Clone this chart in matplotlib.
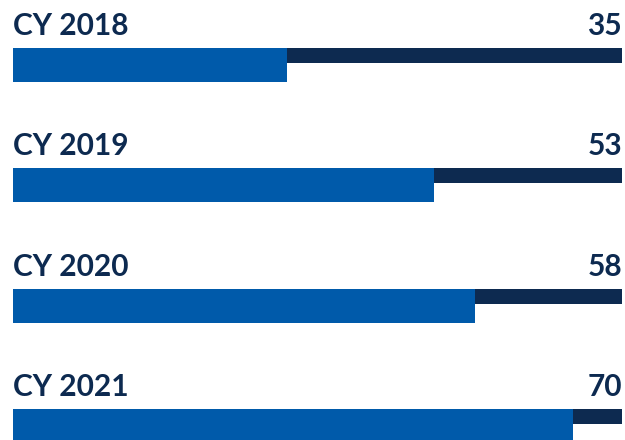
import matplotlib
matplotlib.use('Agg')
import matplotlib.pyplot as plt

# data
labels = ['CY 2018', 'CY 2019', 'CY 2020', 'CY 2021']
values = [35, 53, 58, 70]
scale_min = 1.4   # bars start a little past zero in the original
scale_max = 76

NAVY = '#0d2a50'
BLUE = '#005aaa'

plt.rcParams['font.family'] = ['Lato', 'DejaVu Sans']

fig = plt.figure(figsize=(6.25, 4.4), dpi=100)
ax = fig.add_axes([13 / 625, 0, 609 / 625, 1])
ax.set_xlim(scale_min, scale_max)
ax.set_ylim(440, 0)  # pixel-like vertical units, top to bottom
ax.axis('off')

first_top = 48
pitch = 120.3
for i, (lab, val) in enumerate(zip(labels, values)):
    top = first_top + i * pitch
    # background track (thin, dark) and value bar (thick, blue)
    ax.barh(top, scale_max, height=15, left=0, align='edge', color=NAVY, zorder=1)
    ax.barh(top, val, height=34, left=0, align='edge', color=BLUE, zorder=2)
    ax.text(scale_min, top - 13, lab, ha='left', va='baseline', fontsize=21.5,
            fontweight='bold', color=NAVY)
    ax.text(scale_max, top - 13, str(val), ha='right', va='baseline', fontsize=21.5,
            fontweight='bold', color=NAVY)

fig.savefig('out.png', dpi=100)
